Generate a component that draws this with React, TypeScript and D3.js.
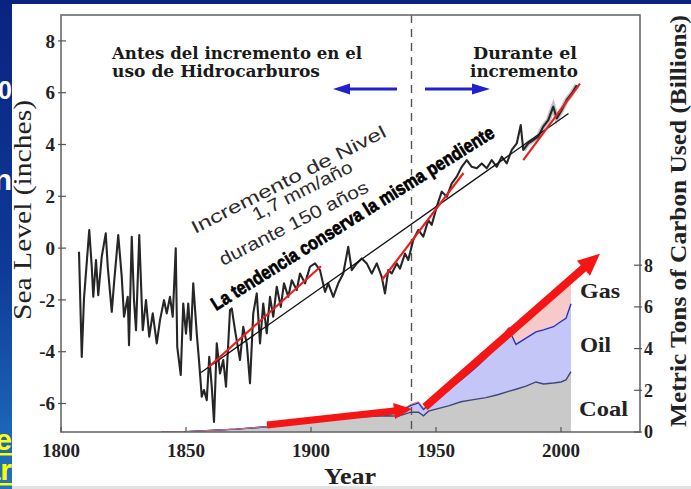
import React from "react";
import * as d3 from "d3";

const W = 691;
const H = 489;

// Sea level (inches)
const seaYears = [
  1807.2, 1808.3, 1809.2, 1811.3, 1812.3, 1812.9, 1814.0, 1814.9, 1816.3, 1817.9, 1818.7, 1820.3, 1821.2,
  1822.9, 1824.3, 1825.2, 1826.7, 1827.2, 1828.3, 1829.2, 1830.0, 1831.3, 1832.7, 1834.0, 1835.3, 1836.7,
  1838.3, 1839.6, 1841.2, 1842.3, 1843.6, 1844.7, 1845.9, 1846.5, 1847.9, 1848.9, 1850.0, 1850.9, 1851.9,
  1852.9, 1854.3, 1855.3, 1856.3, 1857.2, 1858.3, 1859.3, 1860.3, 1861.2, 1862.3, 1863.6, 1864.9, 1866.0,
  1867.6, 1868.3, 1869.6, 1871.6, 1872.9, 1874.3, 1875.6, 1876.9, 1878.3, 1879.6, 1880.9, 1882.3, 1883.6,
  1884.9, 1886.3, 1887.9, 1889.2, 1890.9, 1892.3, 1894.3, 1895.6, 1897.6, 1899.6, 1901.6, 1903.6, 1905.6,
  1906.9, 1908.9, 1910.9, 1912.9, 1914.9, 1916.3, 1918.3, 1920.3, 1922.3, 1924.3, 1926.3, 1928.3, 1929.6,
  1930.9, 1932.3, 1934.3, 1935.6, 1937.6, 1938.9, 1940.9, 1942.9, 1944.9, 1946.9, 1948.3, 1950.3, 1952.3,
  1954.3, 1956.3, 1958.3, 1960.3, 1962.3, 1964.3, 1966.3, 1968.3, 1970.3, 1972.3, 1974.3, 1976.3, 1978.3,
  1980.3, 1982.3, 1983.9, 1984.9, 1986.9, 1988.9, 1990.9, 1992.9, 1994.9, 1996.9, 1998.3, 2000.3, 2002.3,
  2004.3, 2006.3,
];
const seaLevel = [
  -0.14, -4.2, -1.94, 0.7, -0.72, -1.88, -0.46, -1.82, -0.33, 0.57, -0.72, -2.46, -1.37,
  0.5, -1.11, -2.65, -1.88, -3.75, 0.44, -2.01, -3.17, 0.5, -3.17, -2.01, -3.42, -2.52,
  -3.68, -2.78, -2.01, -2.52, -1.88, -2.65, -0.01, -3.81, -4.9, -2.14, -3.3, -2.14, -3.55,
  -1.36, -3.3, -4.45, -5.74, -5.48, -5.87, -4.2, -5.35, -6.71, -3.68, -4.84, -4.32, -5.35,
  -2.39, -2.33, -3.17, -4.32, -3.04, -3.68, -5.22, -2.52, -1.75, -3.68, -2.14, -3.29, -1.88,
  -2.65, -1.49, -2.27, -1.36, -1.88, -1.24, -1.62, -0.98, -1.36, -0.72, -0.59, -0.85, -1.69,
  -1.36, -1.88, -1.36, -0.98, 0.05, -0.85, -0.59, -0.4, -0.59, -0.98, -0.59, -1.11, -1.75,
  -0.85, -0.98, -0.59, -0.79, -0.21, -0.46, 0.31, 0.7, 0.44, 1.08, 0.9, 1.6, 2.18,
  1.98, 2.5, 2.76, 3.14, 3.4, 3.14, 3.08, 3.27, 3.08, 3.4, 3.14, 3.53, 3.27,
  3.79, 4.04, 4.75, 3.79, 4.04, 4.17, 4.3, 4.69, 4.94, 5.46, 5.01, 5.33, 5.72,
  5.97, 6.29,
];

// 150-year trend line (black)
const trendYears = [1856, 2003];
const trendValues = [-4.8, 5.2];

// red trend segments
const redStartYears = [1859, 1928.3, 1984.9];
const redStartValues = [-4.6, -1.24, 3.4];
const redEndYears = [1904, 1961, 2007.6];
const redEndValues = [-0.7, 2.9, 6.35];

// Carbon used (billions of metric tons)
const carbonYears = [
  1840, 1850, 1860, 1870, 1880, 1890, 1900, 1910, 1920, 1925, 1930, 1935, 1940, 1943, 1945, 1947, 1950,
  1955, 1960, 1965, 1970, 1975, 1979, 1982, 1986, 1990, 1993, 1997, 2000, 2002, 2004,
];
const coal = [
  0, 0.02, 0.08, 0.14, 0.23, 0.33, 0.47, 0.62, 0.72, 0.75, 0.78, 0.76, 0.95, 0.95, 0.78, 1.0, 1.1,
  1.25, 1.45, 1.55, 1.65, 1.8, 1.95, 2.05, 2.2, 2.4, 2.3, 2.35, 2.4, 2.5, 2.9,
];
const oil = [
  0, 0, 0, 0, 0, 0.01, 0.02, 0.04, 0.07, 0.1, 0.15, 0.19, 0.33, 0.45, 0.3, 0.3, 0.45,
  0.8, 1.05, 1.45, 1.9, 2.45, 3.0, 2.15, 2.3, 2.4, 2.6, 2.7, 2.9, 2.95, 3.25,
];
const gas = [
  0, 0, 0, 0, 0, 0, 0.01, 0.01, 0.01, 0.02, 0.03, 0.04, 0.05, 0.05, 0.07, 0.05, 0.1,
  0.1, 0.12, 0.15, 0.15, 0.1, 0.07, 0.8, 0.9, 1.0, 1.15, 1.4, 1.45, 1.5, 1.0,
];

// big red arrows (year, billions)
const arrowFromYears = [1882.4, 1945.6];
const arrowFromValues = [0.33, 1.2];
const arrowToYears = [1940.4, 2015.6];
const arrowToValues = [1.1, 8.55];

const dividerYear = 1940.2;

const xTicks = [1800, 1850, 1900, 1950, 2000];
const leftTicks = [-6, -4, -2, 0, 2, 4, 6, 8];
const rightTicks = [0, 2, 4, 6, 8];

const SERIF = "'Liberation Serif', 'Times New Roman', serif";
const SANS = "'Liberation Sans', Arial, sans-serif";

function arrowPath(x0: number, y0: number, x1: number, y1: number, sw: number, hl: number, hw: number) {
  const dx = x1 - x0;
  const dy = y1 - y0;
  const len = Math.sqrt(dx * dx + dy * dy);
  const ux = dx / len;
  const uy = dy / len;
  const nx = -uy;
  const ny = ux;
  const bx = x1 - ux * hl;
  const by = y1 - uy * hl;
  const pts: [number, number][] = [
    [x0 + (nx * sw) / 2, y0 + (ny * sw) / 2],
    [bx + (nx * sw) / 2, by + (ny * sw) / 2],
    [bx + (nx * hw) / 2, by + (ny * hw) / 2],
    [x1, y1],
    [bx - (nx * hw) / 2, by - (ny * hw) / 2],
    [bx - (nx * sw) / 2, by - (ny * sw) / 2],
    [x0 - (nx * sw) / 2, y0 - (ny * sw) / 2],
  ];
  return "M" + pts.map((p) => p[0].toFixed(1) + "," + p[1].toFixed(1)).join("L") + "Z";
}

export default function App() {
  const L = 61, R = 640, T = 15, B = 432;
  const x = d3.scaleLinear().domain([1800, 2031.6]).range([L, R]);
  const yL = d3.scaleLinear().domain([-7.1, 9.0]).range([B, T]);
  const yR = d3.scaleLinear().domain([0, 20]).range([B, T]);

  const seaData = seaYears.map((yr, i) => ({ yr, v: seaLevel[i] }));
  const seaLine = d3
    .line<{ yr: number; v: number }>()
    .x((d) => x(d.yr))
    .y((d) => yL(d.v));
  const seaTail = seaData.filter((d) => d.yr >= 1984);

  const table = carbonYears.map((year, i) => ({ year, coal: coal[i], oil: oil[i], gas: gas[i] }));
  const stack = d3.stack<any>().keys(["coal", "oil", "gas"]);
  const layers = stack(table);
  const area = d3
    .area<any>()
    .x((d) => x(d.data.year))
    .y0((d) => yR(d[0]))
    .y1((d) => yR(d[1]));
  const topLine = d3
    .line<any>()
    .x((d) => x(d.data.year))
    .y((d) => yR(d[1]));
  const fills = ["#c9c9c9", "#c3c6f6", "#f8c9c9"];
  const strokes = ["#3e4870", "#2330c0", "#e07070"];

  const arrows = arrowFromYears.map((yr, i) =>
    arrowPath(
      x(yr),
      yR(arrowFromValues[i]),
      x(arrowToYears[i]),
      yR(arrowToValues[i]),
      i === 0 ? 7 : 8,
      i === 0 ? 18 : 22,
      i === 0 ? 16 : 20
    )
  );

  const blueArrowLeft = arrowPath(397, 89, 333, 89, 3, 17, 11);
  const blueArrowRight = arrowPath(425, 89, 490, 89, 3, 18, 11);

  const tendencia = "La tendencia conserva la misma pendiente";

  return (
    <div style={{ position: "fixed", left: 0, top: 0 }}>
      <svg width={W} height={H} style={{ display: "block" }}>
        <defs>
          <linearGradient id="bg" x1="0" y1="0" x2="0" y2="1">
            <stop offset="0" stopColor="#0a2380" />
            <stop offset="0.55" stopColor="#0e3a98" />
            <stop offset="1" stopColor="#1f74c2" />
          </linearGradient>
          <clipPath id="plot">
            <rect x={L} y={T} width={R - L} height={B - T} />
          </clipPath>
        </defs>
        <rect x={0} y={0} width={W} height={H} fill="url(#bg)" />
        {/* slide text peeking out behind the picture */}
        <text x={12} y={99} textAnchor="end" fontFamily={SANS} fontWeight="bold" fontSize={25} fill="#ffffff">
          0
        </text>
        <text x={12} y={190} textAnchor="end" fontFamily={SANS} fontWeight="bold" fontSize={30} fill="#ffffff">
          n
        </text>
        <text x={12} y={450} textAnchor="end" fontFamily={SANS} fontWeight="bold" fontSize={30} fill="#ffff00">
          e
        </text>
        <rect x={0} y={453} width={12} height={2.5} fill="#ffff00" />
        <text x={12} y={480} textAnchor="end" fontFamily={SANS} fontWeight="bold" fontSize={30} fill="#ffff00">
          ar
        </text>
        <rect x={0} y={483} width={12} height={2.5} fill="#ffff00" />

        {/* picture */}
        <rect x={12} y={4} width={W - 12} height={483} fill="#ffffff" />
        <rect x={12} y={486} width={W - 12} height={3} fill="#e2e2e2" />

        {/* carbon stacked areas */}
        <g clipPath="url(#plot)">
          {layers.map((layer, i) => (
            <path key={"a" + i} d={area(layer) || ""} fill={fills[i]} />
          ))}
          {layers.map((layer, i) => (
            <path key={"l" + i} d={topLine(layer) || ""} fill="none" stroke={strokes[i]} strokeWidth={i === 2 ? 1 : 1.4} />
          ))}
        </g>

        {/* divider */}
        <line
          x1={x(dividerYear)}
          x2={x(dividerYear)}
          y1={T}
          y2={B}
          stroke="#555"
          strokeWidth={1.4}
          strokeDasharray="8,6"
        />

        {/* sea level */}
        <g clipPath="url(#plot)">
          <path d={seaLine(seaTail) || ""} fill="none" stroke="#a8a8a8" strokeWidth={5} strokeOpacity={0.7} />
          <path d={seaLine(seaData) || ""} fill="none" stroke="#262626" strokeWidth={2.1} strokeLinejoin="round" />
          <line
            x1={x(trendYears[0])}
            y1={yL(trendValues[0])}
            x2={x(trendYears[1])}
            y2={yL(trendValues[1])}
            stroke="#111"
            strokeWidth={1.3}
          />
          {redStartYears.map((yr, i) => (
            <line
              key={"r" + i}
              x1={x(yr)}
              y1={yL(redStartValues[i])}
              x2={x(redEndYears[i])}
              y2={yL(redEndValues[i])}
              stroke="#e82020"
              strokeWidth={2.2}
            />
          ))}
        </g>

        {/* red arrows */}
        {arrows.map((d, i) => (
          <path key={"ar" + i} d={d} fill="#f51515" />
        ))}

        {/* blue arrows */}
        <path d={blueArrowLeft} fill="#2020d0" />
        <path d={blueArrowRight} fill="#2020d0" />

        {/* frame */}
        <rect x={L} y={T} width={R - L} height={B - T} fill="none" stroke="#6a6a6a" strokeWidth={1.6} />

        {/* left axis */}
        {leftTicks.map((t) => (
          <g key={"lt" + t}>
            <line x1={L - 3} x2={L + 5} y1={yL(t)} y2={yL(t)} stroke="#555" strokeWidth={1.2} />
            <text
              x={55}
              y={yL(t)}
              dy="0.35em"
              textAnchor="end"
              fontFamily={SERIF}
              fontWeight="bold"
              fontSize={19}
              fill="#222"
            >
              {t}
            </text>
          </g>
        ))}
        {/* bottom axis */}
        {xTicks.map((t) => (
          <g key={"xt" + t}>
            <line x1={x(t)} x2={x(t)} y1={B} y2={B - 5} stroke="#555" strokeWidth={1.2} />
            <text
              x={x(t)}
              y={457}
              textAnchor="middle"
              fontFamily={SERIF}
              fontWeight="bold"
              fontSize={19}
              fill="#222"
            >
              {t}
            </text>
          </g>
        ))}
        {/* right axis */}
        {rightTicks.map((t) => (
          <g key={"rt" + t}>
            <line x1={R - 6} x2={R + 2} y1={yR(t)} y2={yR(t)} stroke="#555" strokeWidth={1.2} />
            <text
              x={644}
              y={yR(t)}
              dy="0.35em"
              textAnchor="start"
              fontFamily={SERIF}
              fontWeight="bold"
              fontSize={18}
              fill="#222"
            >
              {t}
            </text>
          </g>
        ))}

        {/* axis titles */}
        <text
          transform="translate(31,210) rotate(-90)"
          textAnchor="middle"
          fontFamily={SERIF}
          fontSize={25}
          textLength={220}
          lengthAdjust="spacingAndGlyphs"
          fill="#222"
        >
          Sea Level (inches)
        </text>
        <text
          transform="translate(686,221) rotate(-90)"
          textAnchor="middle"
          fontFamily={SERIF}
          fontWeight="bold"
          fontSize={24}
          textLength={412}
          lengthAdjust="spacingAndGlyphs"
          fill="#222"
        >
          Metric Tons of Carbon Used (Billions)
        </text>
        <text
          x={350}
          y={484}
          textAnchor="middle"
          fontFamily={SERIF}
          fontWeight="bold"
          fontSize={23}
          textLength={52}
          lengthAdjust="spacingAndGlyphs"
          fill="#222"
        >
          Year
        </text>

        {/* headings */}
        <g fontFamily="'DejaVu Serif', serif" fontWeight="bold" fontSize={16} fill="#1a1a1a">
          <text x={112} y={59} textLength={250} lengthAdjust="spacingAndGlyphs">
            Antes del incremento en el
          </text>
          <text x={112} y={77} textLength={208} lengthAdjust="spacingAndGlyphs">
            uso de Hidrocarburos
          </text>
          <text x={473} y={59} textLength={104} lengthAdjust="spacingAndGlyphs">
            Durante el
          </text>
          <text x={470} y={77} textLength={108} lengthAdjust="spacingAndGlyphs">
            incremento
          </text>
        </g>

        {/* rotated annotations */}
        <g fontFamily={SANS} fontSize={18} fill="#2a2a2a">
          <text transform="translate(195,234) rotate(-27)" textLength={216} lengthAdjust="spacingAndGlyphs">
            Incremento de Nivel
          </text>
          <text transform="translate(256,221) rotate(-27)" textLength={110} lengthAdjust="spacingAndGlyphs">
            1,7 mm/año
          </text>
          <text transform="translate(223,266) rotate(-27)" textLength={165} lengthAdjust="spacingAndGlyphs">
            durante 150 años
          </text>
        </g>
        <g transform="translate(216,311) rotate(-32)" fontFamily={SANS} fontWeight="bold" fontSize={19}>
          <text
            textLength={330}
            lengthAdjust="spacingAndGlyphs"
            fill="#fff"
            stroke="#fff"
            strokeWidth={3}
            strokeLinejoin="round"
          >
            {tendencia}
          </text>
          <text
            textLength={330}
            lengthAdjust="spacingAndGlyphs"
            fill="#000"
            stroke="#000"
            strokeWidth={0.7}
          >
            {tendencia}
          </text>
        </g>

        {/* fuel labels */}
        <g fontFamily={SERIF} fontWeight="bold" fontSize={22} fill="#222">
          <text x={580} y={298} textLength={40} lengthAdjust="spacingAndGlyphs">
            Gas
          </text>
          <text x={580} y={352} textLength={31} lengthAdjust="spacingAndGlyphs">
            Oil
          </text>
          <text x={579} y={416} textLength={49} lengthAdjust="spacingAndGlyphs">
            Coal
          </text>
        </g>
      </svg>
    </div>
  );
}
